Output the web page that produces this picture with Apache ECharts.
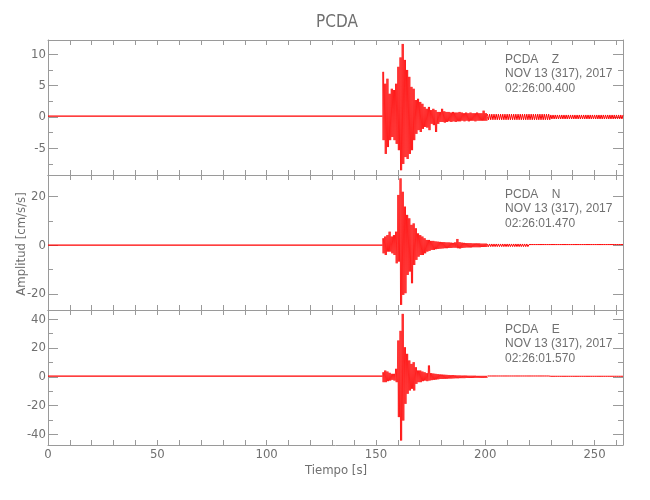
<!DOCTYPE html>
<html>
<head>
<meta charset="utf-8">
<script src="https://cdn.jsdelivr.net/npm/echarts@6/dist/echarts.min.js"></script>
<style>html,body{margin:0;padding:0;background:#fff}#c{width:650px;height:500px}</style>
</head>
<body>
<div id="c"></div>
<script>
// ---- data ----
const components = ['Z', 'N', 'E'];
const startTimes = ['02:26:00.400', '02:26:01.470', '02:26:01.570'];
const xTickLabels = [0, 50, 100, 150, 200, 250];
const yRanges = [[-9.26, 12.28], [-26.6, 28.9], [-47.4, 46.5]];
const yMajorTicks = [[-5, 0, 5, 10], [-20, 0, 20], [-40, -20, 0, 20, 40]];
const yMinorTicks = [[-7.5, -2.5, 2.5, 7.5], [-10, 10], [-30, -10, 10, 30]];

// pre-event noise half-amplitude (0 s up to onset)
const preNoise = [0.14, 0.1, 0.45];
// per-second envelope from t = 153 s to t = 200 s (upper / lower peaks)
const eventStart = 153;
const zHigh = [7.2,5.3,6.1,3.7,4.5,4.3,5.3,8,9.5,11.65, 9.1,7.5,6.4,4.8,4.5,2.7,2.9,2.4,2.1,1.6, 1.3,1.6,1.1,1.3,1.1,0.8,0.8,1.3,0.9,0.8, 0.8,0.7,0.8,0.7,0.7,0.8,0.7,0.6,0.7,0.6, 0.7,0.6,0.6,0.7,0.6,0.6,1.0,0.6];
const zLow  = [-3.7,-5.9,-4.8,-3.7,-3.2,-3.7,-4.3,-5.3,-8.5,-7.5, -6.4,-6.7,-5.9,-5.3,-3.7,-2.7,-2.1,-2.4,-1.9,-1.6, -1.7,-2.1,-1.1,-1.3,-2.4,-1.1,-0.8,-0.8,-0.9,-0.8, -0.7,-0.8,-0.7,-0.8,-0.7,-0.7,-0.6,-0.7,-0.6,-0.7, -0.6,-0.6,-0.7,-0.6,-0.6,-0.6,-0.6,-0.6];
const nHigh = [2.9,3.6,4.2,5.6,3.6,4.2,5.6,20.7,27.5,22, 15.9,12.5,11.1,8.4,9,7,4.9,4.2,3.6,2.9, 2.2,2.2,1.8,1.8,1.6,1.5,1.4,1.3,1.3,1.2, 1.2,1.1,1.0,1.2,2.6,1.3,1.1,1.0,0.9,0.9, 0.9,0.8,0.8,0.8,0.8,0.7,0.7,0.7];
const nLow  = [-3.3,-4,-2.6,-2.6,-3.3,-4,-7.4,-6.7,-24.5,-20.4, -19.7,-12.2,-10.8,-15.6,-8.1,-6,-4.7,-4,-4,-3.3, -2.6,-2.3,-1.9,-1.9,-1.6,-1.5,-1.4,-1.3,-1.2,-1.2, -1.1,-1.1,-1.0,-1.0,-1.2,-1.3,-1.1,-1.0,-0.9,-0.9, -0.9,-0.8,-0.8,-0.8,-0.8,-0.7,-0.7,-0.7];
const eHigh = [3.2,4.4,3.7,2.8,2.1,2.1,5.6,25.3,32,43.8, 20.6,16,11.4,9,10.2,6.7,4.4,4.4,3.7,3.2, 2.6,7.9,2.6,2.3,2.1,1.9,1.7,1.6,1.5,1.4, 1.3,1.2,1.2,1.1,1.0,1.0,0.9,0.9,0.9,0.8, 0.8,0.8,0.8,0.7,0.7,0.7,0.7,0.7];
const eLow  = [-3.7,-3.7,-3,-2.6,-2.1,-2.6,-3.7,-28,-44.3,-30.4, -18.8,-11.8,-9.5,-8.3,-9.5,-4.9,-3.7,-3.7,-3,-2.6, -3,-2.6,-2.3,-2.1,-1.9,-1.7,-1.5,-1.5,-1.4,-1.3, -1.2,-1.2,-1.1,-1.0,-1.0,-0.9,-0.9,-0.9,-0.8,-0.8, -0.8,-0.8,-0.7,-0.7,-0.7,-0.7,-0.7,-0.7];
// coda noise segments after 200 s: [from, to, half-amplitude]
const zCoda = [[201, 230, 0.45], [230, 263.5, 0.32]];
const nCoda = [[201, 220, 0.55], [220, 263.5, 0.3]];
const eCoda = [[201, 230, 0.6], [230, 263.5, 0.4]];

const highs = [zHigh, nHigh, eHigh];
const lows = [zLow, nLow, eLow];
const codas = [zCoda, nCoda, eCoda];

// ---- build traces (zigzag between the read peak values) ----
function buildQuiet(k) {
  const pts = [];
  let sign = 1;
  for (let t = 0; t <= eventStart; t += 0.25) { pts.push([t, sign * preNoise[k]]); sign = -sign; }
  return pts;
}
function buildEvent(k) {
  const pts = [];
  const hi = highs[k], lo = lows[k];
  for (let i = 0; i < hi.length; i++) {
    const t = eventStart + i;
    pts.push([t, hi[i]]);
    pts.push([t + 0.25, lo[i]]);
    pts.push([t + 0.5, hi[i]]);
    pts.push([t + 0.75, lo[i]]);
  }
  pts.push([eventStart + hi.length, 0]);
  return pts;
}
function buildCoda(k) {
  const pts = [];
  let sign = 1;
  codas[k].forEach(seg => {
    for (let t = seg[0]; t < seg[1]; t += 0.5) { pts.push([t, sign * seg[2]]); sign = -sign; }
  });
  return pts;
}

const AX = '#9a9a9a';
const TXT = '#707070';
const FONT = '"Liberation Sans Narrow", "DejaVu Sans Condensed", "Liberation Sans", sans-serif';
const gridTops = [40, 175, 310];

const grid = [], xAxis = [], yAxis = [], series = [], graphic = [];
for (let k = 0; k < 3; k++) {
  grid.push({ left: 48, width: 575, top: gridTops[k], height: 135, show: false });
  const xBase = {
    gridIndex: k, type: 'value', min: 0, max: 263, interval: 10,
    axisLine: { show: true, onZero: false, lineStyle: { color: AX, width: 1 } },
    axisTick: { show: true, inside: true, length: 5, lineStyle: { color: AX } },
    splitLine: { show: false }
  };
  xAxis.push(Object.assign({}, xBase, {
    position: 'bottom',
    axisLabel: k === 2 ? { show: true, customValues: xTickLabels, color: TXT, fontSize: 13, fontFamily: FONT, margin: 3 } : { show: false }
  }));
  xAxis.push(Object.assign({}, xBase, { position: 'top', axisLabel: { show: false } }));

  const yBase = {
    gridIndex: k, type: 'value', min: yRanges[k][0], max: yRanges[k][1],
    splitLine: { show: false }
  };
  yAxis.push(Object.assign({}, yBase, {
    position: 'left',
    axisLine: { show: true, onZero: false, lineStyle: { color: AX } },
    axisTick: { show: true, inside: true, length: 10, customValues: yMajorTicks[k], lineStyle: { color: AX } },
    axisLabel: { show: true, customValues: yMajorTicks[k], color: TXT, fontSize: 13, fontFamily: FONT, margin: 2 }
  }));
  yAxis.push(Object.assign({}, yBase, {
    position: 'left',
    axisLine: { show: false, onZero: false },
    axisTick: { show: true, inside: true, length: 5, customValues: yMinorTicks[k], lineStyle: { color: AX } },
    axisLabel: { show: false }
  }));
  yAxis.push(Object.assign({}, yBase, {
    position: 'right',
    axisLine: { show: true, onZero: false, lineStyle: { color: AX } },
    axisTick: { show: true, inside: true, length: 10, customValues: yMajorTicks[k], lineStyle: { color: AX } },
    axisLabel: { show: false }
  }));
  yAxis.push(Object.assign({}, yBase, {
    position: 'right',
    axisLine: { show: false, onZero: false },
    axisTick: { show: true, inside: true, length: 5, customValues: yMinorTicks[k], lineStyle: { color: AX } },
    axisLabel: { show: false }
  }));

  const common = { type: 'line', xAxisIndex: 2 * k, yAxisIndex: 4 * k, showSymbol: false, symbol: 'none',
    sampling: null, silent: true, animation: false, z: 1 };
  series.push(Object.assign({}, common, { data: buildQuiet(k), lineStyle: { color: '#ff0000', width: 1.3 } }));
  series.push(Object.assign({}, common, { data: buildEvent(k), lineStyle: { color: '#ff0000', width: 0.7 } }));
  series.push(Object.assign({}, common, { data: buildCoda(k), lineStyle: { color: '#ff0000', width: 1 } }));

  const lines = ['PCDA    ' + components[k], 'NOV 13 (317), 2017', startTimes[k]];
  const centers = [[61, 75, 90], [195.5, 210, 225], [330.3, 345, 360]][k];
  lines.forEach((s, j) => {
    graphic.push({ type: 'text', left: 505, top: centers[j] - 7,
      style: { text: s, fill: TXT, font: '12px "Liberation Sans", sans-serif' } });
  });
}

graphic.push({ type: 'text', x: 337, y: 23, style: { text: 'PCDA', fill: TXT, font: '17px ' + FONT, align: 'center', verticalAlign: 'middle' } });
graphic.push({ type: 'text', x: 336, y: 471, style: { text: 'Tiempo [s]', fill: TXT, font: '13px ' + FONT, align: 'center', verticalAlign: 'middle' } });
graphic.push({ type: 'text', x: 22, y: 244, rotation: Math.PI / 2, style: { text: 'Amplitud [cm/s/s]', fill: TXT, font: '13px ' + FONT, align: 'center', verticalAlign: 'middle' } });

const chart = echarts.init(document.getElementById('c'), null, { renderer: 'canvas' });
chart.setOption({ animation: false, backgroundColor: '#fff', grid, xAxis, yAxis, series, graphic });
</script>
</body>
</html>
